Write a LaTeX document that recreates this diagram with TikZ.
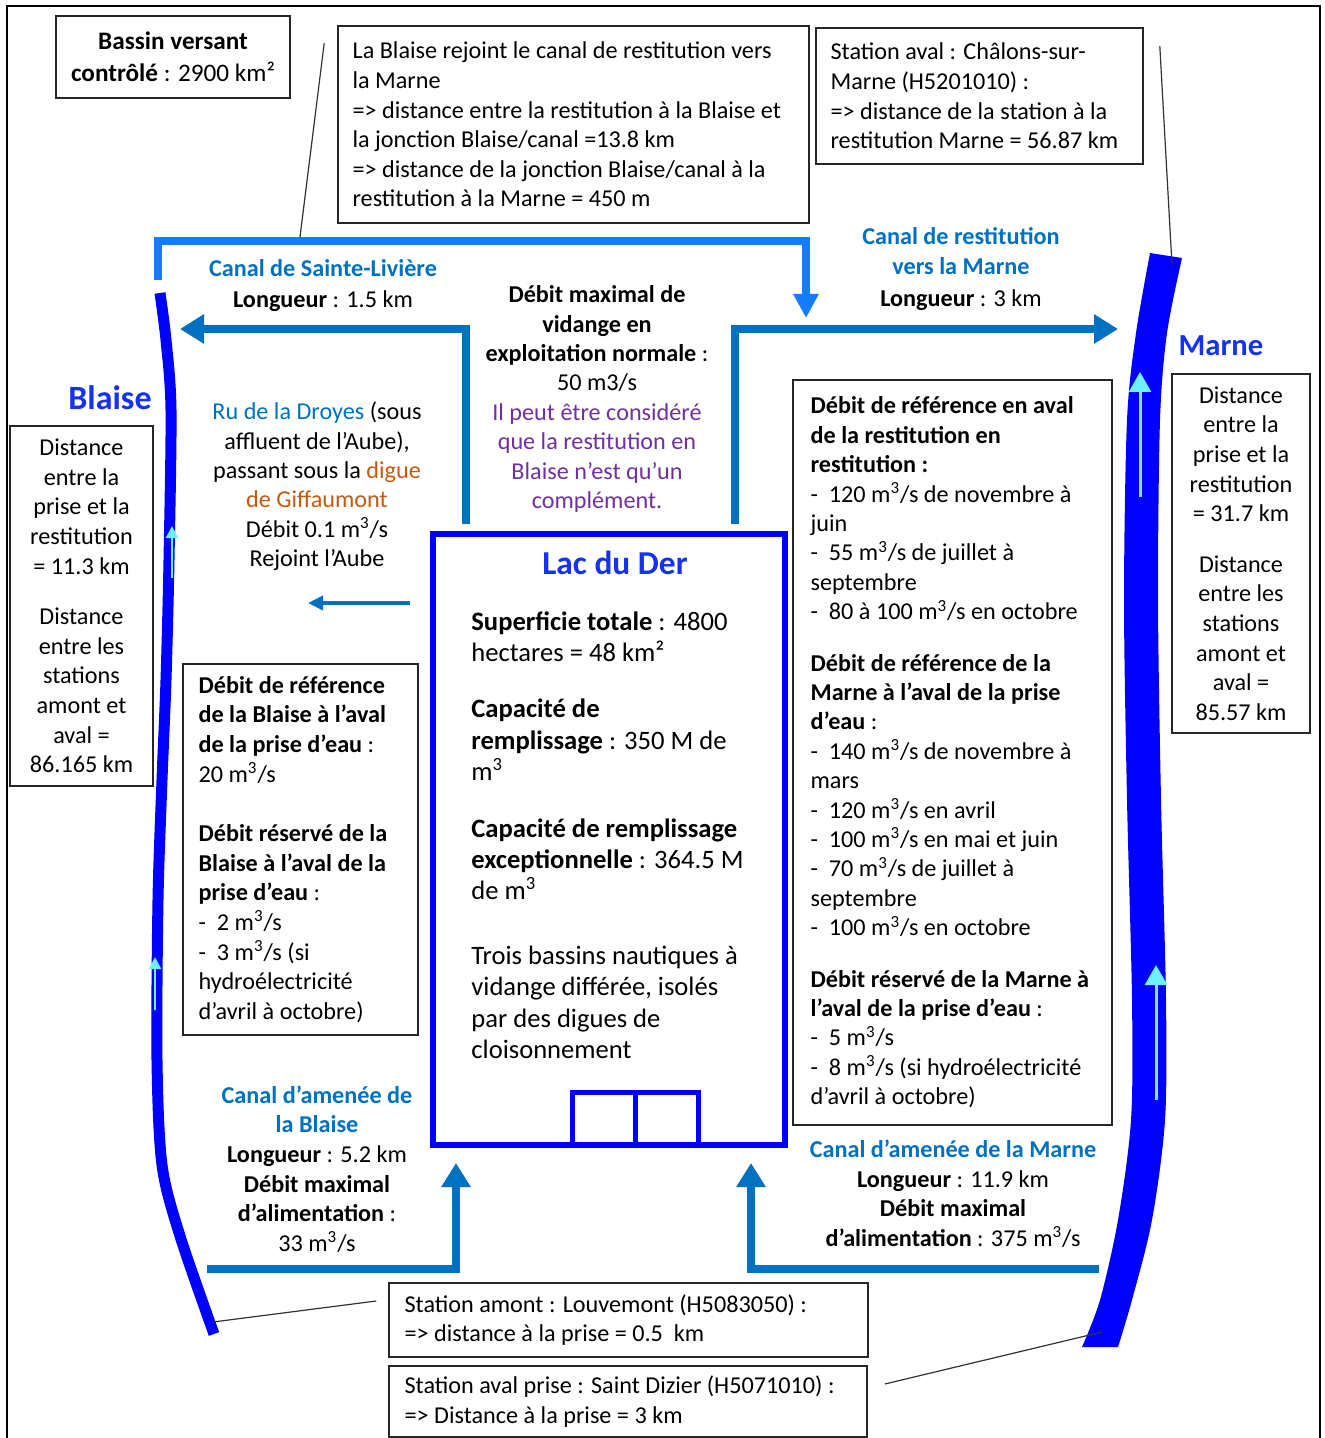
\documentclass[tikz,border=0pt]{standalone}
\usepackage{fontspec}
\setmainfont{Carlito}
\usetikzlibrary{arrows.meta,positioning}

\definecolor{canal}{RGB}{0,112,192}
\definecolor{canalclair}{RGB}{20,125,255}
\definecolor{riviere}{RGB}{0,0,255}
\definecolor{courant}{RGB}{110,240,255}
\definecolor{titre}{RGB}{20,50,240}
\definecolor{violet}{RGB}{112,48,160}
\definecolor{brun}{RGB}{197,90,17}

\newcommand{\taille}[2]{\fontsize{#1}{#2}\selectfont}
\newcommand{\mc}{m\textsuperscript{3}/s}

\begin{document}
\begin{tikzpicture}[x=0.5pt, y=-0.5pt,
    every node/.style={font=\taille{12.1}{14.8}, inner sep=0pt},
    cadre/.style={draw=black!85, line width=0.8pt},
    corps/.style={align=left, anchor=west},
    centre/.style={align=center},
    nom/.style={font=\bfseries\taille{17}{20}, text=titre},
    lac/.style={draw=riviere, line width=3pt},
    amenee/.style={draw=canal, line width=4pt, -{Triangle[width=14pt,length=12pt]}},
    courant/.style={draw=courant, line width=1.5pt, -{Triangle[width=11pt,length=10pt]}},
    renvoi/.style={draw=black!80, line width=0.6pt},
  ]
  \useasboundingbox (0,0) rectangle (1325,1438);
  \draw[line width=1pt] (7,1450) |- (1320,6) -- (1320,1450);

  % rivieres
  \draw[riviere, line width=5.5pt] plot[smooth] coordinates {(160,293) (166,340) (171,410) (169,560) (166,680) (162,780) (158,900) (157,1060) (162,1165) (180,1236) (214,1334)};
  \fill[riviere] plot[smooth] coordinates {(1150,253) (1136,333) (1127,420) (1124,600) (1127,800) (1132,1000) (1131,1120) (1118,1220) (1100,1300) (1082,1347)}
    -- plot[smooth] coordinates {(1118,1347) (1132,1300) (1152,1220) (1165,1120) (1166,1000) (1161,800) (1158,600) (1160,420) (1167,333) (1182,258)} -- cycle;
  \draw[courant, line width=1.2pt, -{Triangle[width=6pt,length=6pt]}] (172,578) -- (172,526);
  \draw[courant, line width=1.2pt, -{Triangle[width=6pt,length=6pt]}] (155,1010) -- (155,957);
  \draw[courant] (1140,497) -- (1140,372);
  \draw[courant] (1156,1100) -- (1156,965);
  \node[nom] (blaise) at (110,398) {Blaise};
  \node[nom, font=\bfseries\taille{15.3}{18}] (marne) at (1221,346) {Marne};

  % lac et bassins
  \node[lac, minimum width=176pt, minimum height=305.5pt] (lac) at (609,839.5) {};
  \draw[riviere, line width=2.5pt] (572,1145) |- (698,1092) -- (698,1145) (635,1092) -- (635,1145);
  \node[font=\bfseries\taille{16.7}{20}, text=titre] (lacnom) at (615,563) {Lac du Der};
  \node[corps, font=\taille{13.3}{15.7}] (lactexte) at (471,835) {\textbf{Superficie totale} : 4800\\hectares = 48 km²\\[12.5pt]\textbf{Capacité de}\\\textbf{remplissage} : 350 M de\\m\textsuperscript{3}\\[12.5pt]\textbf{Capacité de remplissage}\\\textbf{exceptionnelle} : 364.5 M\\de m\textsuperscript{3}\\[16.5pt]Trois bassins nautiques à\\vidange différée, isolés\\par des digues de\\cloisonnement};

  % canaux
  \coordinate (sortieG) at (466,524);
  \coordinate (sortieD) at (735,524);
  \coordinate (versBlaise) at (180,329);
  \coordinate (versMarne) at (1118,329);
  \draw[amenee] (sortieG) |- (versBlaise);
  \draw[amenee] (sortieD) |- (versMarne);
  \draw[canalclair, line width=3.75pt, -{Triangle[width=12pt,length=12pt]}] (158,280) |- (806,241) -- (806,318);
  \draw[canal, line width=1.8pt, -{Triangle[width=7pt,length=7.5pt]}] (410,603) -- (308,603);
  \coordinate (priseBlaise) at (207,1269);
  \coordinate (priseMarne) at (1099,1269);
  \draw[amenee] (priseBlaise) -| (456,1163);
  \draw[amenee] (priseMarne) -| (751,1163);

  % textes des canaux
  \node[centre] (sainteliv) at (323,285.5) {\textcolor{canal}{\textbf{Canal de Sainte-Livière}}\\[0.7pt]\textbf{Longueur} : 1.5 km};
  \node[centre, font=\taille{12.1}{14.7}] (vidange) at (597,399) {\textbf{Débit maximal de}\\\textbf{vidange en}\\\textbf{exploitation normale} :\\50 m3/s\\\textcolor{violet}{Il peut être considéré}\\\textcolor{violet}{que la restitution en}\\\textcolor{violet}{Blaise n’est qu’un}\\\textcolor{violet}{complément.}};
  \node[centre] (restit) at (961,269) {\textcolor{canal}{\textbf{Canal de restitution}}\\\textcolor{canal}{\textbf{vers la Marne}}\\[1pt]\textbf{Longueur} : 3 km};
  \node[centre, font=\taille{12.1}{14.7}] (droyes) at (317,486.5) {\textcolor{canal}{Ru de la Droyes} (sous\\affluent de l’Aube),\\passant sous la \textcolor{brun}{digue}\\\textcolor{brun}{de Giffaumont}\\Débit 0.1 \mc\\Rejoint l’Aube};
  \node[centre] (ameneeBlaise) at (317,1169) {\textcolor{canal}{\textbf{Canal d’amenée de}}\\\textcolor{canal}{\textbf{la Blaise}}\\\textbf{Longueur} : 5.2 km\\\textbf{Débit maximal}\\\textbf{d’alimentation} :\\33 \mc};
  \node[centre] (ameneeMarne) at (953,1193.5) {\textcolor{canal}{\textbf{Canal d’amenée de la Marne}}\\\textbf{Longueur} : 11.9 km\\\textbf{Débit maximal}\\\textbf{d’alimentation} : 375 \mc};

  % encadres
  \node[cadre, centre, minimum width=117pt, minimum height=41pt, font=\taille{12.6}{16}] (bassin) at (173,57) {\textbf{Bassin versant}\\\textbf{contrôlé} : 2900 km²};
  \node[cadre, minimum width=235.5pt, minimum height=98.5pt] (jonction) at (573.5,124.5) {};
  \node[corps, right=7.5pt of jonction.west] {La Blaise rejoint le canal de restitution vers\\la Marne\\=> distance entre la restitution à la Blaise et\\la jonction Blaise/canal =13.8 km\\=> distance de la jonction Blaise/canal à la\\restitution à la Marne = 450 m};
  \node[cadre, minimum width=163.5pt, minimum height=68pt] (chalons) at (979.5,96) {};
  \node[corps, right=7.5pt of chalons.west] {Station aval : Châlons-sur-\\Marne (H5201010) :\\=> distance de la station à la\\restitution Marne = 56.87 km};
  \node[cadre, centre, minimum width=71.5pt, minimum height=180pt] (distBlaise) at (81.5,606) {Distance\\entre la\\prise et la\\restitution\\= 11.3 km\\[10.5pt]Distance\\entre les\\stations\\amont et\\aval =\\86.165 km};
  \node[cadre, centre, minimum width=69pt, minimum height=179.5pt] (distMarne) at (1241,553.5) {Distance\\entre la\\prise et la\\restitution\\= 31.7 km\\[10.5pt]Distance\\entre les\\stations\\amont et\\aval =\\85.57 km};
  \node[cadre, minimum width=117.5pt, minimum height=185.5pt] (refBlaise) at (300.5,849.5) {};
  \node[corps, right=8pt of refBlaise.west] {\textbf{Débit de référence}\\\textbf{de la Blaise à l’aval}\\\textbf{de la prise d’eau} :\\20 \mc\\[15pt]\textbf{Débit réservé de la}\\\textbf{Blaise à l’aval de la}\\\textbf{prise d’eau} :\\-~~2 \mc\\-~~3 \mc{} (si\\hydroélectricité\\d’avril à octobre)};
  \node[cadre, minimum width=159.5pt, minimum height=372.5pt] (refMarne) at (952.5,752.5) {};
  \node[corps, right=9pt of refMarne.west, font=\taille{12.1}{14.7}] {\textbf{Débit de référence en aval}\\\textbf{de la restitution en}\\\textbf{restitution :}\\-~~120 \mc{} de novembre à\\juin\\-~~55 \mc{} de juillet à\\septembre\\-~~80 à 100 \mc{} en octobre\\[11pt]\textbf{Débit de référence de la}\\\textbf{Marne à l’aval de la prise}\\\textbf{d’eau} :\\-~~140 \mc{} de novembre à\\mars\\-~~120 \mc{} en avril\\-~~100 \mc{} en mai et juin\\-~~70 \mc{} de juillet à\\septembre\\-~~100 \mc{} en octobre\\[11pt]\textbf{Débit réservé de la Marne à}\\\textbf{l’aval de la prise d’eau} :\\-~~5 \mc\\-~~8 \mc{} (si hydroélectricité\\d’avril à octobre)};
  \node[cadre, minimum width=239.5pt, minimum height=37pt] (louvemont) at (628.5,1320) {};
  \node[corps, right=8pt of louvemont.west] {Station amont : Louvemont (H5083050) :\\=> distance à la prise = 0.5~ km};
  \node[cadre, minimum width=239pt, minimum height=35.5pt] (stdizier) at (628,1401.5) {};
  \node[corps, right=8pt of stdizier.west] {Station aval prise : Saint Dizier (H5071010) :\\=> Distance à la prise = 3 km};

  % renvois vers les stations
  \coordinate (jonctionSL) at (300,237);
  \coordinate (stChalons) at (1172,265);
  \coordinate (stLouvemont) at (213,1322);
  \coordinate (stDizier) at (1102,1332);
  \draw[renvoi] ([xshift=-6.5pt,yshift=-9pt]jonction.north west) -- (jonctionSL);
  \draw[renvoi] ([xshift=8pt,yshift=-9.5pt]chalons.north east) -- (stChalons);
  \draw[renvoi] ([xshift=-6pt,yshift=9.5pt]louvemont.west) -- (stLouvemont);
  \draw[renvoi] ([xshift=8.5pt,yshift=8.75pt]stdizier.east) -- (stDizier);
\end{tikzpicture}
\end{document}
